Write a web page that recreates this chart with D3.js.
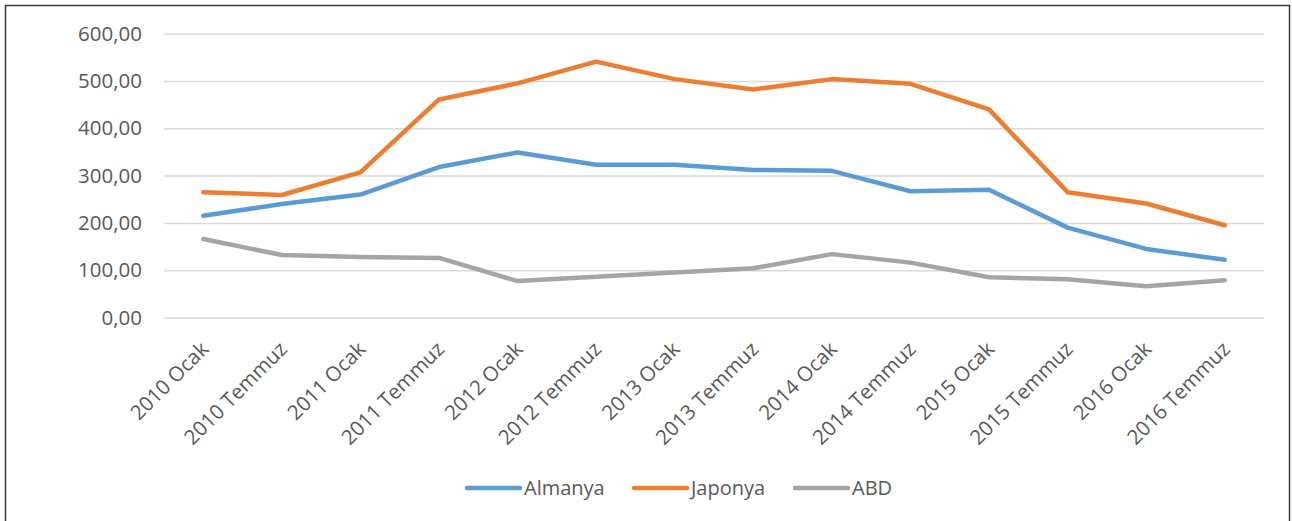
<!DOCTYPE html>
<html>
<head>
<meta charset="utf-8">
<script src="https://cdn.jsdelivr.net/npm/d3@7"></script>
<style>
  html, body { margin: 0; padding: 0; background: #fff; }
  svg { display: block; }
  text { font-family: "Open Sans", sans-serif; fill: #595959; }
</style>
</head>
<body>
<svg id="chart" width="1292" height="521"></svg>
<script>
// Half-year periods
const categories = [
  "2010 Ocak", "2010 Temmuz", "2011 Ocak", "2011 Temmuz", "2012 Ocak", "2012 Temmuz",
  "2013 Ocak", "2013 Temmuz", "2014 Ocak", "2014 Temmuz", "2015 Ocak", "2015 Temmuz",
  "2016 Ocak", "2016 Temmuz"
];
const almanya = [215, 240, 260, 318, 349, 323, 323, 312, 310, 267, 270, 190, 145, 122];
const japonya = [265, 259, 307, 461, 495, 541, 504, 482, 504, 494, 440, 265, 241, 195];
const abd     = [166, 132, 128, 126, 77, 86, 95, 104, 134, 116, 85, 81, 66, 79];
const seriesNames = ["Almanya", "Japonya", "ABD"];
const seriesColors = ["#5B9BD5", "#ED7D31", "#A5A5A5"];
const yTicks = [0, 100, 200, 300, 400, 500, 600];

const series = [almanya, japonya, abd].map((values, i) => ({
  name: seriesNames[i], color: seriesColors[i], values
}));

const svg = d3.select("#chart");

// Outer frame
svg.append("rect")
  .attr("x", 5.5).attr("y", 5.5)
  .attr("width", 1284).attr("height", 530)
  .attr("fill", "none").attr("stroke", "#3a3a3a").attr("stroke-width", 1.5);

const plot = { left: 164, right: 1264, top: 33.7, bottom: 317.5 };

const x = d3.scalePoint().domain(categories)
  .range([plot.left, plot.right]).padding(0.5);
const y = d3.scaleLinear().domain([0, 600]).range([plot.bottom, plot.top]);

// Gridlines + y labels
const yAxis = d3.axisLeft(y)
  .tickValues(yTicks)
  .tickSize(-(plot.right - plot.left))
  .tickPadding(22)
  .tickFormat(d => d3.format(".2f")(d).replace(".", ","));

const gy = svg.append("g").attr("transform", `translate(${plot.left},0)`).call(yAxis);
gy.select(".domain").remove();
gy.selectAll(".tick line").attr("stroke", "#D9D9D9").attr("stroke-width", 1.5);
gy.selectAll(".tick text")
  .attr("font-size", 20.5).attr("fill", "#595959")
  .style("font-family", "'Open Sans', sans-serif");

// X axis labels (rotated)
const xAxis = d3.axisBottom(x).tickSize(0).tickPadding(0);
const gx = svg.append("g").attr("transform", `translate(0,${plot.bottom})`).call(xAxis);
gx.select(".domain").remove();
gx.selectAll(".tick text")
  .attr("font-size", 20.5).attr("fill", "#595959")
  .style("font-family", "'Open Sans', sans-serif")
  .attr("text-anchor", "end")
  .attr("dy", 0)
  .attr("transform", "translate(6,33) rotate(-45)");

// Lines
const line = d3.line()
  .x((d, i) => x(categories[i]))
  .y(d => y(d));

svg.append("g").selectAll("path")
  .data(series)
  .join("path")
  .attr("d", d => line(d.values))
  .attr("fill", "none")
  .attr("stroke", d => d.color)
  .attr("stroke-width", 4.5)
  .attr("stroke-linecap", "round")
  .attr("stroke-linejoin", "round");

// Legend
const legendX = [467, 634, 795];
const legend = svg.append("g").selectAll("g")
  .data(series)
  .join("g")
  .attr("transform", (d, i) => `translate(${legendX[i]},488)`);
legend.append("line")
  .attr("x1", 0).attr("x2", 53).attr("y1", 0).attr("y2", 0)
  .attr("stroke", d => d.color).attr("stroke-width", 4.5)
  .attr("stroke-linecap", "round");
legend.append("text")
  .attr("x", 57).attr("y", 0).attr("dy", "0.35em")
  .attr("font-size", 20)
  .text(d => d.name);
</script>
</body>
</html>
